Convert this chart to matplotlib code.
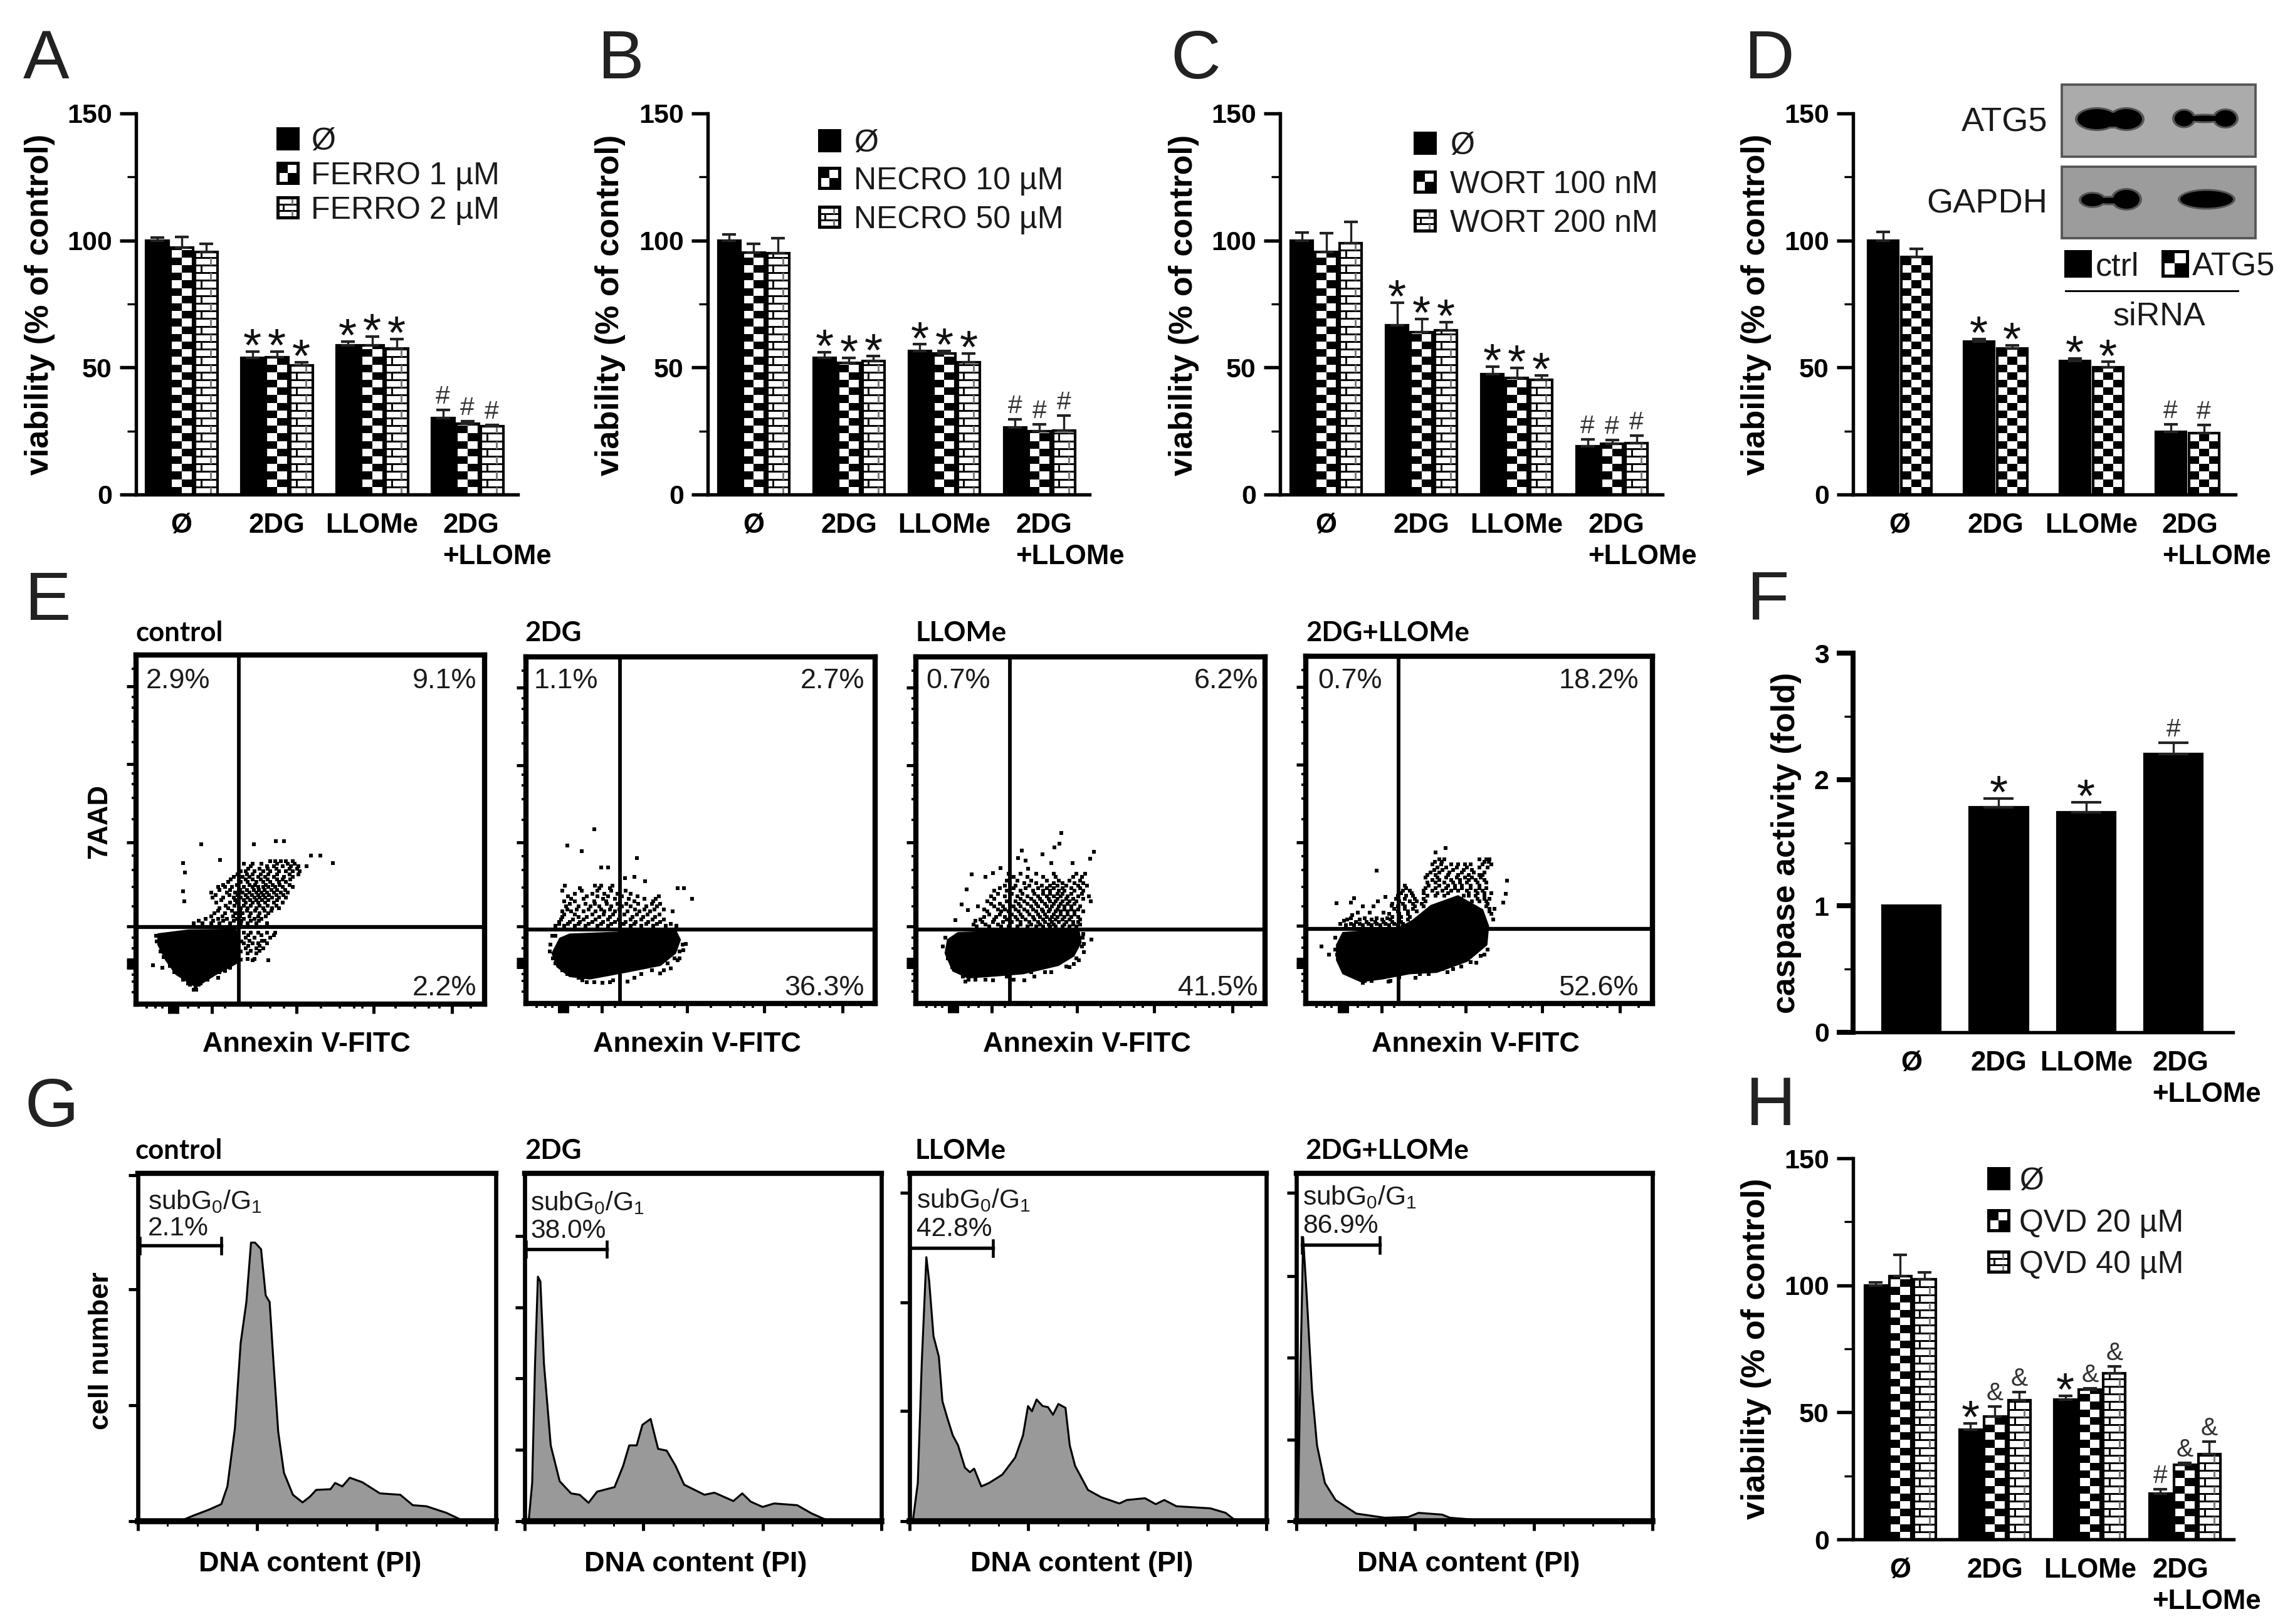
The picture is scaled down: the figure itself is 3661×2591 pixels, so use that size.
import numpy as np
import matplotlib
matplotlib.use("Agg")
import matplotlib.pyplot as plt
from matplotlib.patches import Ellipse, Rectangle
from matplotlib.transforms import ScaledTranslation

plt.rcParams["font.family"] = "Liberation Sans"
plt.rcParams["mathtext.default"] = "regular"

W, H, DPI = 3661, 2591, 300

groups = ["Ø", "2DG", "LLOMe", "2DG\n+LLOMe"]

# bar values, one list per treatment, one value per group
a_means = [[100, 53.7, 58.8, 30.1], [97.3, 54.1, 58.8, 27.8], [95.6, 50.8, 57.5, 26.8]]
a_errs = [[1.1, 2.5, 1.3, 3.3], [4.1, 2.1, 3.3, 1.0], [3.2, 1.3, 3.8, 0.7]]
a_marks = [["", "*", "*", "#"]] * 3

b_means = [[100, 53.8, 56.6, 26.5], [95.3, 51.8, 55.5, 24.9], [95, 52.5, 52.1, 25.1]]
b_errs = [[2.5, 2.2, 2.5, 3.2], [3.4, 2.0, 0.9, 2.7], [5.9, 1.9, 3.4, 6.0]]
b_marks = [["", "*", "*", "#"]] * 3

c_means = [[100, 66.5, 47.4, 19.1], [95.5, 63.8, 46, 19.9], [99, 64.6, 45.2, 20.3]]
c_errs = [[3.2, 9.1, 3.0, 2.5], [7.3, 5.2, 3.8, 1.5], [8.4, 3.2, 1.6, 3.0]]
c_marks = [["", "*", "*", "#"]] * 3

d_means = [[100, 60.1, 52.5, 24.6], [93.4, 57.5, 50, 24.3]]
d_errs = [[3.3, 1.2, 1.1, 3.1], [3.2, 1.3, 2.2, 3.2]]
d_marks = [["", "*", "*", "#"]] * 2

f_means = [[1.0, 1.78, 1.74, 2.2]]
f_errs = [[0.0, 0.07, 0.08, 0.09]]
f_marks = [["", "*", "*", "#"]]

h_means = [[100, 43.1, 55.1, 17.9], [103.7, 48.4, 58.9, 29.4], [102.3, 54.7, 65.5, 33.5]]
h_errs = [[1.1, 2.5, 1.4, 1.9], [8.3, 3.8, 0.6, 0.8], [2.9, 3.3, 2.6, 5.1]]
h_marks = [["", "*", "*", "#"], ["", "&", "&", "&"], ["", "&", "&", "&"]]

# flow cytometry: dense core outlines and sparse events, channel units 0-1000
e_titles = ["control", "2DG", "LLOMe", "2DG+LLOMe"]
e_gate_x = [295, 269, 269, 268]
e_gate_y = [221, 214, 214, 214]
e_left_pct = ["2.9%", "1.1%", "0.7%", "0.7%"]
e_right_pct = ["9.1%", "2.7%", "6.2%", "18.2%"]
e_low_pct = ["2.2%", "36.3%", "41.5%", "52.6%"]

core_control = [(63, 201), (150, 212), (287, 214), (298, 143), (287, 116), (229, 85), (172, 49), (115, 85), (86, 125), (63, 170)]
core_2dg = [(97, 188), (125, 200), (428, 212), (442, 184), (428, 145), (385, 110), (284, 90), (183, 71), (125, 78), (89, 106), (75, 145)]
core_llome = [(91, 184), (120, 204), (221, 208), (466, 216), (473, 176), (452, 137), (408, 110), (307, 86), (206, 78), (149, 74), (106, 94), (84, 145)]
core_combo = [(89, 169), (107, 204), (265, 216), (308, 239), (361, 282), (439, 310), (510, 270), (527, 223), (522, 169), (466, 122), (378, 90), (300, 86), (221, 71), (159, 63), (107, 86), (89, 125)]

rows_control = [
    (458, [187, 338]), (466, [401, 424]), (426, [501, 528]), (413, [241]), (404, [135, 565]),
    (410, [385, 400, 415, 430, 450]), (402, [310, 335, 360, 405, 435, 455]), (395, [330, 375, 395, 420, 445, 465, 490]),
    (388, [322, 355, 378, 402, 440, 462]), (380, [300, 315, 340, 365, 385, 410, 430, 450, 470]), (377, [141]),
    (372, [292, 318, 335, 358, 380, 405, 440, 465]), (365, [280, 305, 325, 350, 370, 395, 425, 450]),
    (357, [272, 315, 335, 358, 378, 405, 420, 442]), (350, [265, 300, 320, 345, 365, 385, 410, 430]),
    (342, [250, 290, 325, 342, 372, 392, 412, 440]), (335, [235, 255, 275, 310, 335, 350, 365, 380, 400, 420, 450]),
    (327, [240, 270, 298, 318, 338, 352, 368, 388, 405, 428]), (323, [135]),
    (320, [215, 260, 285, 305, 325, 345, 360, 375, 395, 415, 435]), (312, [228, 268, 292, 315, 333, 350, 365, 382, 402, 422]),
    (305, [220, 250, 280, 300, 320, 340, 355, 370, 390, 410, 430]), (298, [245, 285, 310, 328, 345, 362, 380, 405]), (295, [138]),
    (290, [230, 270, 290, 315, 335, 350, 370, 395, 420]), (282, [258, 282, 310, 330, 355, 378, 402]),
    (275, [240, 265, 300, 320, 345, 365, 390, 410]), (267, [235, 275, 298, 318, 342, 368, 388]),
    (260, [225, 255, 285, 305, 330, 355, 380]), (252, [215, 248, 278, 298, 325, 350, 372]),
    (245, [200, 235, 260, 290, 310, 340, 360]), (238, [180, 222, 250, 280, 302, 330, 352]),
    (232, [165, 190, 215, 240, 270, 300, 320, 345, 375]), (205, [310, 330, 350, 375, 400]), (197, [322, 360, 395]),
    (190, [315, 340, 385]), (182, [325, 362, 368]), (175, [310, 335, 350, 375]), (167, [322, 355]), (160, [315, 345, 365]),
    (152, [330, 355]), (145, [320, 345]), (130, [320, 340]), (125, [335, 380]), (112, [49]), (104, [75, 270]),
    (95, [255]), (75, [235, 205]), (60, [150, 185]), (42, [165, 172]), (195, [58]), (180, [60, 302]), (150, [70, 300]),
    (135, [80]), (128, [290, 300]), (110, [98, 255]), (92, [110, 240]), (70, [135, 205]), (55, [155, 180]), (45, [170]),
]
rows_2dg = [
    (502, [196]), (455, [118]), (439, [159]), (419, [317]), (392, [215, 236]), (366, [310]),
    (361, [284]), (353, [341]), (340, [111, 197, 215, 248]), (332, [155, 210, 240, 435, 452]), (325, [105, 160, 205, 245, 285]),
    (317, [140, 190, 225, 262, 300]), (310, [120, 175, 205, 235, 275, 320, 380]), (302, [130, 165, 220, 255, 295, 340, 372, 475]),
    (295, [110, 140, 195, 230, 270, 310, 365]), (287, [125, 170, 198, 232, 262, 288, 322, 360, 385]),
    (280, [115, 150, 185, 210, 245, 275, 300, 345, 375]), (272, [118, 145, 180, 215, 240, 268, 312, 340, 368, 395]),
    (265, [105, 130, 165, 200, 225, 255, 290, 325, 355, 420]), (257, [110, 140, 190, 222, 250, 282, 318, 348, 382]),
    (250, [105, 150, 175, 210, 240, 270, 305, 335, 370]), (242, [100, 135, 165, 200, 235, 265, 300, 330, 362, 395]),
    (235, [95, 125, 155, 190, 220, 255, 285, 315, 350, 385]), (230, [95, 120, 150, 180, 215, 245, 280, 310, 345, 375, 415]),
    (225, [85, 110, 140, 170, 205, 235, 270, 300, 330, 365, 400, 430]), (195, [85, 75]), (172, [457]), (170, [70, 448]),
    (153, [450]), (150, [68, 440]), (130, [78, 425, 440]), (125, [435]), (115, [85, 405]), (102, [414]),
    (95, [105, 395, 360]), (86, [385]), (85, [118, 330]), (75, [150, 270, 310]), (67, [161, 250]), (63, [291]),
    (62, [175, 195, 240]), (59, [219]),
]
rows_llome = [
    (492, [416]), (462, [411]), (451, [397]), (441, [303]), (437, [509]), (431, [362]), (419, [293]),
    (418, [499]), (412, [315]), (405, [387, 449]), (390, [242]), (388, [322]), (376, [221]), (372, [160]),
    (375, [265, 300, 345, 395, 460, 485]), (366, [199]), (365, [280, 320, 365, 400, 450, 475]),
    (355, [260, 290, 330, 375, 410, 440, 470]), (348, [270, 310, 345, 395, 420, 455, 480]),
    (340, [255, 285, 325, 360, 385, 405, 430, 465, 490]), (333, [240, 280, 315, 350, 375, 395, 420, 445, 470]), (329, [146]),
    (325, [225, 260, 300, 335, 365, 385, 410, 425, 455, 480]), (317, [235, 275, 305, 340, 365, 385, 405, 420, 445, 475]),
    (310, [215, 255, 290, 320, 350, 375, 395, 415, 435, 465, 495]), (302, [225, 270, 300, 330, 355, 380, 405, 430, 450, 480]),
    (295, [205, 260, 285, 310, 340, 360, 385, 400, 420, 440, 460, 500]), (287, [215, 240, 270, 295, 320, 345, 370, 395, 415, 435, 455]),
    (286, [131]), (280, [177, 225, 250, 280, 300, 330, 350, 375, 390, 410, 425, 445, 470]),
    (272, [195, 235, 255, 285, 310, 335, 360, 385, 405, 425, 445, 465]), (270, [149]),
    (265, [205, 245, 265, 295, 320, 345, 365, 380, 400, 415, 435, 455, 480]), (257, [210, 240, 275, 300, 325, 350, 370, 395, 415, 435, 455]),
    (250, [195, 230, 255, 285, 305, 335, 355, 375, 390, 405, 425, 445, 465]), (243, [185, 225, 260, 290, 315, 340, 365, 385, 400, 420, 440, 470]),
    (241, [113]), (238, [170]), (235, [190, 220, 250, 275, 300, 325, 350, 370, 390, 410, 430, 450, 465]),
    (228, [165, 200, 235, 270, 300, 330, 355, 380, 395, 425, 450, 470]), (222, [175, 210, 245, 265, 290, 320, 345, 365, 385, 400, 420, 440, 460]),
    (200, [480]), (190, [85, 478]), (184, [502]), (172, [481]), (165, [78, 475]), (149, [481]), (130, [92, 460]), (125, [466]),
    (114, [452]), (106, [430]), (105, [105, 440]), (90, [125, 370, 330, 387]), (78, [135, 260, 340]), (68, [150, 170, 200, 280]),
    (67, [310, 221]), (63, [141]),
]
rows_combo = [
    (447, [403]), (435, [374]), (415, [385, 400, 500, 520, 530]), (408, [372, 392, 515, 528]), (400, [365, 390, 420, 440, 460, 475, 510, 535]),
    (392, [380, 405, 435, 465, 500, 525]), (385, [370, 395, 425, 455, 480]), (382, [205]), (378, [360, 385, 415, 450, 485, 515]),
    (370, [350, 375, 410, 440, 470, 500, 510]), (362, [345, 380, 405, 435, 460, 480, 505]), (355, [365, 385, 420, 445, 470, 490, 515]),
    (353, [580]), (348, [350, 375, 400, 425, 445, 465, 495, 520]), (340, [285, 355, 385, 410, 430, 450, 475, 500]),
    (332, [290, 345, 375, 405, 430, 450, 475, 500, 520]), (325, [280, 300, 340, 365, 395, 420, 440, 465, 490, 510]),
    (318, [275, 305, 340, 380, 410, 470, 495, 515, 535]), (315, [576]), (310, [265, 290, 310, 350, 375, 400, 455, 470, 490, 515]),
    (307, [230]), (303, [140]), (302, [260, 285, 315, 340, 495, 515, 530]), (295, [270, 300, 320, 345, 480, 500, 520]), (294, [208]),
    (290, [131, 569]), (288, [89]), (287, [250, 280, 310, 335, 525]), (282, [247]), (280, [165, 195, 265, 285, 315, 340, 520]),
    (272, [255, 285, 310, 530, 545]), (265, [265, 295, 320, 530]), (262, [150, 185, 225]), (258, [240, 270, 295, 535]),
    (255, [133]), (250, [250, 275, 300]), (245, [130, 170, 205, 235]), (242, [120, 155, 190, 220, 245, 270, 295]), (241, [540]), (239, [111]),
    (235, [145, 175, 200, 225, 250, 275]), (230, [100, 130, 155, 180, 205, 230, 255, 280]), (225, [115, 140, 165, 190, 215, 240, 265]),
    (190, [85]), (165, [46]), (155, [85, 525]), (141, [67]), (140, [90, 515]), (137, [505]), (120, [100, 475]), (118, [492]), (106, [449]),
    (100, [110, 425, 395]), (90, [409]), (85, [125, 355, 330]), (75, [145, 205, 270]), (74, [317]), (65, [170, 190, 245]), (63, [238]), (59, [164]),
]
e_cores = [core_control, core_2dg, core_llome, core_combo]
e_rows = [rows_control, rows_2dg, rows_llome, rows_combo]

flow_x_major = [95, 103, 111, 119, 218, 461, 682, 906]
flow_y_major = [104, 112, 120, 128, 223, 464, 688, 911]
flow_x_minor = [30, 55, 75, 150, 180, 255, 330, 385, 425, 530, 585, 625, 650, 745, 800, 840, 870, 960]
flow_y_minor = [35, 65, 85, 160, 190, 280, 335, 385, 425, 530, 590, 630, 660, 750, 810, 850, 880, 960]

# DNA histograms, channel / count as fraction of the frame x1000
hist_x_control = [0, 117, 157, 198, 233, 250, 271, 287, 303, 316, 327, 344, 357, 368, 379, 392, 408, 433, 460, 481, 498, 538, 551, 571, 592, 627, 676, 733, 768, 806, 862, 911, 1000]
hist_y_control = [0, 0, 17, 33, 49, 100, 267, 512, 630, 801, 801, 782, 649, 630, 453, 257, 139, 76, 54, 71, 90, 92, 110, 100, 125, 112, 80, 76, 46, 43, 24, 0, 0]
hist_x_2dg = [0, 11, 21, 29, 37, 44, 54, 73, 98, 130, 154, 179, 203, 252, 276, 293, 314, 330, 353, 374, 398, 423, 447, 504, 532, 585, 610, 634, 667, 699, 764, 805, 854, 1000]
hist_y_2dg = [0, 0, 110, 453, 703, 689, 453, 218, 115, 80, 76, 53, 85, 98, 159, 218, 218, 277, 294, 208, 203, 159, 105, 76, 82, 58, 80, 56, 41, 51, 46, 22, 0, 0]
hist_x_llome = [0, 9, 23, 34, 47, 55, 67, 82, 92, 106, 121, 136, 155, 169, 181, 201, 223, 260, 296, 318, 332, 343, 356, 373, 388, 402, 417, 437, 449, 464, 500, 537, 588, 609, 660, 690, 714, 748, 843, 886, 916, 1000]
hist_y_llome = [0, 0, 110, 453, 759, 689, 532, 473, 345, 296, 247, 218, 154, 141, 151, 100, 110, 134, 183, 247, 331, 316, 350, 331, 328, 306, 337, 326, 218, 159, 90, 69, 51, 61, 66, 49, 61, 43, 37, 24, 0, 0]
hist_x_combo = [0, 4, 10, 19, 29, 44, 58, 80, 110, 168, 248, 314, 343, 409, 431, 504, 985]
hist_y_combo = [0, 0, 355, 816, 649, 375, 218, 110, 61, 22, 10, 12, 24, 19, 10, 4, 4]
g_hist = [(hist_x_control, hist_y_control), (hist_x_2dg, hist_y_2dg), (hist_x_llome, hist_y_llome), (hist_x_combo, hist_y_combo)]
g_pct = ["2.1%", "38.0%", "42.8%", "86.9%"]
g_gate_left = [5, 3, 0, 15]
g_gate_right = [233, 231, 233, 234]
g_gate_y = [792, 782, 785, 794]
g_y_major = [[0, 333, 666, 995], [0, 205, 410, 615, 820], [0, 317, 628, 945], [0, 235, 470, 705, 945]]

blot_atg5_bands = [(3345, 190, 62, 32), (3392, 190, 50, 32), (3368, 191, 60, 22), (3484, 189, 30, 25), (3550, 189, 34, 26), (3517, 189, 60, 9)]
blot_gapdh_bands = [(3338, 319, 36, 20), (3392, 318, 42, 30), (3365, 320, 55, 9), (3520, 318, 84, 27)]


fig = plt.figure(figsize=(W / DPI, H / DPI), dpi=DPI)


def px_axes(left, top, right, bottom):
    return fig.add_axes([left / W, 1 - bottom / H, (right - left) / W, (bottom - top) / H])


overlay = px_axes(0, 0, W, H)
overlay.set_xlim(0, W)
overlay.set_ylim(H, 0)
overlay.axis("off")
overlay.set_zorder(10)
overlay.set_autoscale_on(False)


def label(x, y, s, size=10.8, weight="normal", ha="left", va="center", **kw):
    overlay.text(x, y, s, fontsize=size, fontweight=weight, ha=ha, va=va, **kw)


def checker_fill(ax, x0, x1, y0, y1, ncols, row, zorder=2.5):
    xs = np.linspace(x0, x1, ncols + 1)
    ys = np.append(np.arange(y0, y1, row), y1)
    cells = np.indices((len(ys) - 1, ncols)).sum(axis=0) % 2
    ax.pcolormesh(xs, ys, cells, cmap="gray", vmin=0, vmax=1, shading="flat",
                  antialiased=False, zorder=zorder)


def brick_fill(ax, x0, x1, y0, y1, row, zorder=2.5):
    ys = np.append(np.arange(y0, y1, row), y1)
    width = x1 - x0
    ax.hlines(ys[1:-1], x0, x1, color="black", lw=0.7, zorder=zorder)
    for i in range(len(ys) - 1):
        x = x0 + (0.28 if i % 2 else 0.72) * width
        ax.vlines(x, ys[i], ys[i + 1], color="black" if i % 2 else "#777777", lw=0.7, zorder=zorder)


def draw_key(x, y, size, style):
    half = size / 2
    x0, x1, y0, y1 = x, x + size, y - half, y + half
    if style == "checker":
        checker_fill(overlay, x0, x1, y0, y1, 2, size / 2)
    elif style == "brick":
        brick_fill(overlay, x0, x1, y0, y1, size / 3)
    face = "black" if style == "solid" else "none"
    overlay.add_patch(Rectangle((x0, y0), size, size, facecolor=face, edgecolor="black", lw=1.2, zorder=3))


def bar_panel(box, ymax, major, minor, means, errs, marks, c0, spacing, bar_w, offset,
              last_dx, ncols=2, cap=2.6, spine=1.3):
    left, top, right, bottom = box
    ax = px_axes(left, top, right, bottom)
    ax.patch.set_alpha(0)
    ax.set_xlim(-c0 / spacing, (right - left - c0) / spacing)
    ax.set_ylim(0, ymax)
    ax.set_autoscale_on(False)
    ppu = (bottom - top) / ymax
    row = 12.2 / ppu
    width = bar_w / spacing
    n = len(means)
    for k in range(n):
        xs = np.arange(4) + (k - (n - 1) / 2) * offset / spacing
        face = "black" if k == 0 else "white"
        ax.bar(xs, means[k], width, color=face, zorder=2)
        for x, m in zip(xs, means[k]):
            if k == 1:
                checker_fill(ax, x - width / 2, x + width / 2, 0, m, ncols, row)
            elif k == 2:
                brick_fill(ax, x - width / 2, x + width / 2, 0, m, row)
        ax.bar(xs, means[k], width, fill=False, edgecolor="black", lw=1.0, zorder=3)
        shown = [e > 0 for e in errs[k]]
        ax.errorbar(xs[shown], np.array(means[k])[shown],
                    yerr=[np.zeros(sum(shown)), np.array(errs[k])[shown]], fmt="none",
                    ecolor="#222222", elinewidth=0.8, capsize=cap, capthick=1.0, zorder=3)
        for x, m, e, mark in zip(xs, means[k], errs[k], marks[k]):
            if mark == "*":
                ax.annotate(mark, (x, m + e), xytext=(0, -3.6), textcoords="offset points",
                            ha="center", va="baseline", fontsize=18, color="#111111", zorder=5)
            elif mark:
                ax.annotate(mark, (x, m + e), xytext=(0, 2.4), textcoords="offset points",
                            ha="center", va="baseline", fontsize=9.8, color="#333333", zorder=5)
    ax.spines[["top", "right"]].set_visible(False)
    ax.spines[["left"]].set_linewidth(spine)
    ax.spines[["bottom"]].set_linewidth(1.3)
    ax.set_yticks(major)
    ax.set_yticks(minor, minor=True)
    ax.tick_params(axis="y", which="major", length=6.2, width=spine, pad=3, labelsize=10.3)
    ax.tick_params(axis="y", which="minor", length=3.4, width=0.8)
    ax.set_xticks(range(4), groups)
    ax.tick_params(axis="x", length=0, pad=7, labelsize=10.5)
    for lab in ax.get_xticklabels() + ax.get_yticklabels():
        lab.set_fontweight("bold")
    last = ax.get_xticklabels()[3]
    last.set_ha("left")
    last.set_multialignment("left")
    last.set_linespacing(1.28)
    last.set_transform(last.get_transform() + ScaledTranslation(last_dx / DPI, 0, fig.dpi_scale_trans))
    return ax


pct_ticks = ([0, 50, 100, 150], [25, 75, 125])
bar_panel((217, 181, 826, 789), 150, *pct_ticks, a_means, a_errs, a_marks, 72.5, 152, 36, 39, -39)
bar_panel((1129, 181, 1738, 789), 150, *pct_ticks, b_means, b_errs, b_marks, 73, 152, 35, 39, -38)
bar_panel((2042, 181, 2652, 789), 150, *pct_ticks, c_means, c_errs, c_marks, 73.5, 152, 35, 39, -38)
bar_panel((2956, 181, 3566, 789), 150, *pct_ticks, d_means, d_errs, d_marks, 74, 153, 48, 53, -40, ncols=3)
bar_panel((2956, 1848, 3563, 2456), 150, *pct_ticks, h_means, h_errs, h_marks, 75, 151.4, 35, 39, -52)
bar_panel((2956, 1042, 3562, 1647), 3, [0, 1, 2, 3], [0.5, 1.5, 2.5], f_means, f_errs, f_marks,
          93, 139.4, 92.5, 0, -34, cap=5.7, spine=1.9)

# E: flow plots
e_boxes = [(217, 1045, 773, 1602), (839, 1048, 1396, 1601), (1461, 1048, 2018, 1601), (2083, 1047, 2636, 1601)]
e_left_x = [233, 852, 1477, 2102]
e_right_x = [760, 1379, 2007, 2614]
e_title_x = [217, 837, 1461, 2083]
for i, box in enumerate(e_boxes):
    ax = px_axes(*box)
    ax.set_xlim(0, 1000)
    ax.set_ylim(0, 1000)
    core = np.array(e_cores[i])
    ax.fill(core[:, 0], core[:, 1], color="black", lw=0.5, zorder=2)
    px = [x for y, xs in e_rows[i] for x in xs]
    py = [y for y, xs in e_rows[i] for x in xs]
    ax.scatter(px, py, s=1.5, marker="s", color="black", linewidths=0, zorder=2)
    ax.axvline(e_gate_x[i], color="black", lw=1.4, zorder=3)
    ax.axhline(e_gate_y[i], color="black", lw=1.5, zorder=3)
    ax.spines[:].set_linewidth(2.0)
    ax.set_xticks(flow_x_major, [])
    ax.set_yticks(flow_y_major, [])
    ax.set_xticks(flow_x_minor, minor=True)
    ax.set_yticks(flow_y_minor, minor=True)
    ax.tick_params(which="major", length=3.6, width=1.2)
    ax.tick_params(which="minor", length=1.6, width=0.9)
    label(e_title_x[i], 1010, e_titles[i], size=10.5, weight="bold", family="Lato")
    label(e_left_x[i], 1087, e_left_pct[i], color="#1a1a1a")
    label(e_right_x[i], 1087, e_right_pct[i], ha="right", color="#1a1a1a")
    label(e_right_x[i], 1577, e_low_pct[i], ha="right", color="#1a1a1a")
    label((box[0] + box[2]) / 2 - 6, 1666, "Annexin V-FITC", weight="bold", ha="center")
label(159, 1311, "7AAD", size=10.5, weight="bold", ha="center", rotation=90)

# G: DNA histograms
g_boxes = [(220, 1872, 791, 2427), (837, 1872, 1406, 2427), (1451, 1872, 2020, 2427), (2068, 1872, 2636, 2427)]
g_sub_y = [1917, 1919, 1915, 1910]
g_pct_y = [1960, 1964, 1961, 1956]
g_text_x = [236, 846, 1462, 2078]
g_xlabel_x = [495, 1110, 1726, 2343]
g_title_x = [216, 837, 1460, 2082]
hist_x_major = [0, 333, 667, 1000]
hist_x_minor = [83, 167, 250, 417, 500, 583, 750, 833, 917]
for i, box in enumerate(g_boxes):
    ax = px_axes(*box)
    ax.set_xlim(0, 1000)
    ax.set_ylim(0, 1000)
    hx, hy = g_hist[i]
    ax.fill_between(hx, hy, 0, color="#999999", lw=0, zorder=2)
    ax.plot(hx, hy, color="black", lw=0.75, zorder=3)
    ax.plot([g_gate_left[i], g_gate_right[i]], [g_gate_y[i]] * 2, color="black", lw=1.3, zorder=4)
    for end in (g_gate_left[i], g_gate_right[i]):
        ax.plot([end, end], [g_gate_y[i] - 22, g_gate_y[i] + 22], color="black", lw=1.1, zorder=4)
    ax.spines[:].set_linewidth(1.6)
    ax.spines["bottom"].set_linewidth(2.3)
    ax.spines["top"].set_linewidth(2.0)
    ax.set_xticks(hist_x_major, [])
    ax.set_yticks(g_y_major[i], [])
    ax.set_xticks(hist_x_minor, minor=True)
    ax.tick_params(which="major", length=3.6, width=1.2)
    ax.tick_params(which="minor", length=1.8, width=0.7)
    label(g_title_x[i], 1836, e_titles[i], size=10.5, weight="bold", family="Lato")
    label(g_text_x[i], g_sub_y[i], "subG$_{0}$/G$_{1}$", size=10.2, color="#1a1a1a")
    label(g_text_x[i], g_pct_y[i], g_pct[i], size=10.2, color="#1a1a1a")
    label(g_xlabel_x[i], 2496, "DNA content (PI)", weight="bold", ha="center")
label(162, 2155, "cell number", weight="bold", ha="center", rotation=90)

# y axis titles and panel letters
for x, y in [(64, 486), (974, 487), (1889, 487), (2802, 486), (2802, 2152)]:
    label(x, y, "viability (% of control)", size=12.5, weight="bold", ha="center", rotation=90)
label(2850, 1345, "caspase activity (fold)", size=12.5, weight="bold", ha="center", rotation=90)

letters = [("A", 37, 125), ("B", 954, 125), ("C", 1867, 125), ("D", 2783, 125), ("E", 40, 989),
           ("F", 2787, 989), ("G", 40, 1797), ("H", 2785, 1795)]
for s, x, y in letters:
    label(x, y, s, size=26.5, va="baseline", color="#222222")

# legends
legend_rows = [
    (443, 496, [221, 276, 331], ["Ø", "FERRO 1 µM", "FERRO 2 µM"]),
    (1307, 1362, [224, 284, 346], ["Ø", "NECRO 10 µM", "NECRO 50 µM"]),
    (2257, 2313, [228, 290, 352], ["Ø", "WORT 100 nM", "WORT 200 nM"]),
    (3172, 3221, [1880, 1947, 2013], ["Ø", "QVD 20 µM", "QVD 40 µM"]),
]
key_styles = ["solid", "checker", "brick"]
for key_x, text_x, ys, names in legend_rows:
    for y, name, style in zip(ys, names, key_styles):
        draw_key(key_x, y, 32, style)
        label(text_x, y + 5, name, size=12, color="#1a1a1a")

draw_key(3295, 420, 39, "solid")
label(3343, 426, "ctrl", size=12.5, color="#1a1a1a")
draw_key(3450, 420, 39, "checker")
label(3497, 426, "ATG5", size=12.5, color="#1a1a1a")
overlay.plot([3295, 3570], [464, 464], color="black", lw=0.7)
label(3444, 505, "siRNA", size=12.5, ha="center", color="#1a1a1a")

# D: western blot inset
for (y0, y1, face, bands, name) in [(135, 250, "#ababab", blot_atg5_bands, "ATG5"),
                                    (266, 380, "#9c9c9c", blot_gapdh_bands, "GAPDH")]:
    overlay.add_patch(Rectangle((3289, y0), 309, y1 - y0, facecolor=face, edgecolor="#555555", lw=0.9))
    for cx, cy, w, h in bands:
        overlay.add_patch(Ellipse((cx, cy), w + 8, h + 6, facecolor="#555555", edgecolor="none"))
    for cx, cy, w, h in bands:
        overlay.add_patch(Ellipse((cx, cy), w, h, facecolor="black", edgecolor="none"))
    label(3266, (y0 + y1) / 2 + 3, name, size=13, ha="right", color="#1a1a1a")

fig.savefig("out.png", dpi=DPI)
